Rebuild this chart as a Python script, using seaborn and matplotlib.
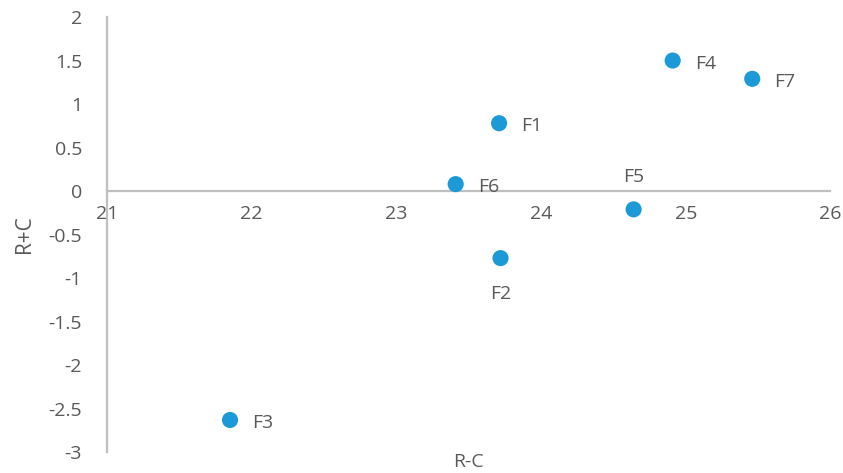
import pandas as pd
import seaborn as sns
import matplotlib.pyplot as plt

# --- data ---
labels = ["F1", "F2", "F3", "F4", "F5", "F6", "F7"]
r_minus_c = [23.71, 23.72, 21.85, 24.91, 24.64, 23.41, 25.46]
r_plus_c = [0.78, -0.77, -2.63, 1.50, -0.21, 0.08, 1.29]

# where each label sits relative to its point (pixels)
label_pos = {"F2": (0, -36, "center"), "F5": (0, 32, "center")}

df = pd.DataFrame({"name": labels, "rc_minus": r_minus_c, "rc_plus": r_plus_c})

sns.set_style("white")
plt.rcParams["font.family"] = ["Open Sans", "DejaVu Sans"]
grey = "#595959"
axis_grey = "#BFBFBF"

fig = plt.figure(figsize=(8.43, 4.73), dpi=100)
ax = fig.add_axes([0.127, 0.044, 0.858, 0.920])

sns.scatterplot(data=df, x="rc_minus", y="rc_plus", ax=ax,
                color="#1B9AD7", s=135, edgecolor="none", zorder=3)

for _, row in df.iterrows():
    dx, dy, ha = label_pos.get(row["name"], (22, -3, "left"))
    ax.annotate(row["name"], (row["rc_minus"], row["rc_plus"]),
                xytext=(dx, dy), textcoords="offset pixels",
                ha=ha, va="center", fontsize=14, color=grey)

ax.set_xlim(21, 26)
ax.set_ylim(-3, 2)
ax.set_xticks([21, 22, 23, 24, 25, 26])
ax.set_yticks([-3, -2.5, -2, -1.5, -1, -0.5, 0, 0.5, 1, 1.5, 2])
ax.set_yticklabels(["-3", "-2.5", "-2", "-1.5", "-1", "-0.5", "0", "0.5", "1", "1.5", "2"])

# excel style: vertical axis at x=21, horizontal axis through y=0
ax.spines["top"].set_visible(False)
ax.spines["right"].set_visible(False)
ax.spines["bottom"].set_position(("data", 0))
for sp in ["left", "bottom"]:
    ax.spines[sp].set_color(axis_grey)
    ax.spines[sp].set_linewidth(1.6)

ax.tick_params(axis="both", length=0, labelsize=14, labelcolor=grey)
ax.tick_params(axis="x", pad=10)
ax.tick_params(axis="y", pad=18)

ax.set_xlabel("R-C", fontsize=14, color=grey, va="center")
ax.set_ylabel("R+C", fontsize=15, color=grey)
ax.xaxis.set_label_coords(0.5, -0.022)
ax.yaxis.set_label_coords(-0.1, 0.5)

fig.savefig("out.png", dpi=100)
